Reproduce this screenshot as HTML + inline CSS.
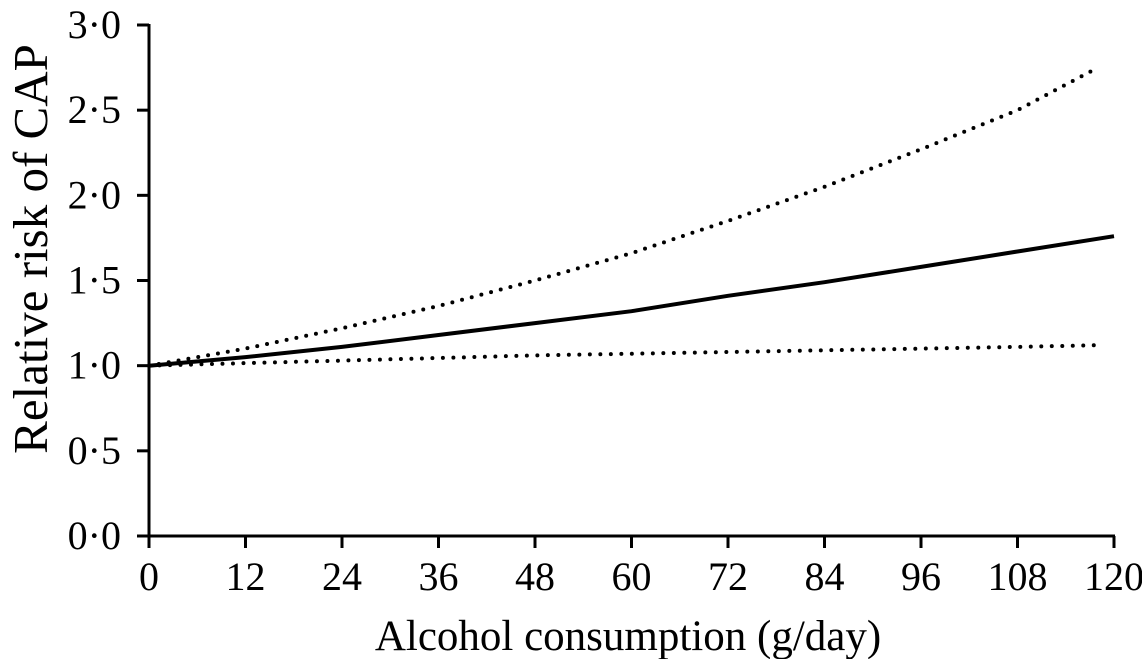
<!DOCTYPE html>
<html><head><meta charset="utf-8"><style>body{margin:0;background:#fff}svg{display:block}text{font-family:"Liberation Serif",serif;fill:#000}</style></head>
<body>
<svg id="chart" width="1142" height="659" viewBox="0 0 1142 659" xmlns="http://www.w3.org/2000/svg">
<g id="axes"></g><g id="series"></g>
<text transform="translate(47,249) rotate(-90)" text-anchor="middle" font-size="49">Relative risk of CAP</text>
<text x="628" y="650" text-anchor="middle" font-size="43">Alcohol consumption (g/day)</text>
</svg>
<script>
const xTicks=[0,12,24,36,48,60,72,84,96,108,120];
const yTicks=[0,0.5,1,1.5,2,2.5,3];
const yTickLabels=["0·0","0·5","1·0","1·5","2·0","2·5","3·0"];
const doseX=[0,12,24,36,48,60,72,84,96,108,120];
const rrCentral=[1.0,1.05,1.11,1.18,1.25,1.32,1.41,1.49,1.58,1.67,1.76];
const upperX=[0,12,24,36,48,60,72,84,96,108,118];
const rrUpper=[1.0,1.1,1.22,1.35,1.5,1.66,1.85,2.05,2.27,2.5,2.75];
const lowerX=[0,12,24,36,48,60,72,84,96,108,118];
const rrLower=[1.0,1.015,1.03,1.045,1.06,1.07,1.08,1.09,1.1,1.11,1.12];
const X=v=>149+v*(1114-149)/120, Y=v=>536-v*(536-25)/3;
const NS="http://www.w3.org/2000/svg";
const ax=document.getElementById('axes'), se=document.getElementById('series');
function mk(tag,attrs,parent){const e=document.createElementNS(NS,tag);for(const k in attrs)e.setAttribute(k,attrs[k]);parent.appendChild(e);return e;}
let e=mk('line',{x1:X(0),y1:Y(3)-1,x2:X(0),y2:Y(0),stroke:'#000','stroke-width':3},ax);


e=mk('line',{x1:X(0)-1,y1:Y(0),x2:X(120)+1,y2:Y(0),stroke:'#000','stroke-width':3},ax);


yTicks.forEach((t,i)=>{
 let l=mk('line',{x1:X(0)-12,y1:Y(t),x2:X(0),y2:Y(t),stroke:'#000','stroke-width':3},ax);
 
 
 let tx=mk('text',{x:X(0)-28,y:Y(t)+13,'text-anchor':'end','font-size':40},ax);tx.textContent=yTickLabels[i];
 
 
});
xTicks.forEach(t=>{
 let l=mk('line',{x1:X(t),y1:Y(0),x2:X(t),y2:Y(0)+12,stroke:'#000','stroke-width':3},ax);
 
 
 let tx=mk('text',{x:X(t),y:590,'text-anchor':'middle','font-size':40},ax);tx.textContent=String(t);
 
 
});
function path(xs,ys){return xs.map((x,i)=>(i?'L':'M')+X(x).toFixed(1)+','+Y(ys[i]).toFixed(1)).join(' ');}
e=mk('path',{d:path(doseX,rrCentral),fill:'none',stroke:'#000','stroke-width':4},se);


e=mk('path',{d:path(upperX,rrUpper),fill:'none',stroke:'#000','stroke-width':4,'stroke-dasharray':'0 10','stroke-linecap':'round'},se);


e=mk('path',{d:path(lowerX,rrLower),fill:'none',stroke:'#000','stroke-width':4,'stroke-dasharray':'0 10.5','stroke-linecap':'round'},se);


</script>
</body></html>
